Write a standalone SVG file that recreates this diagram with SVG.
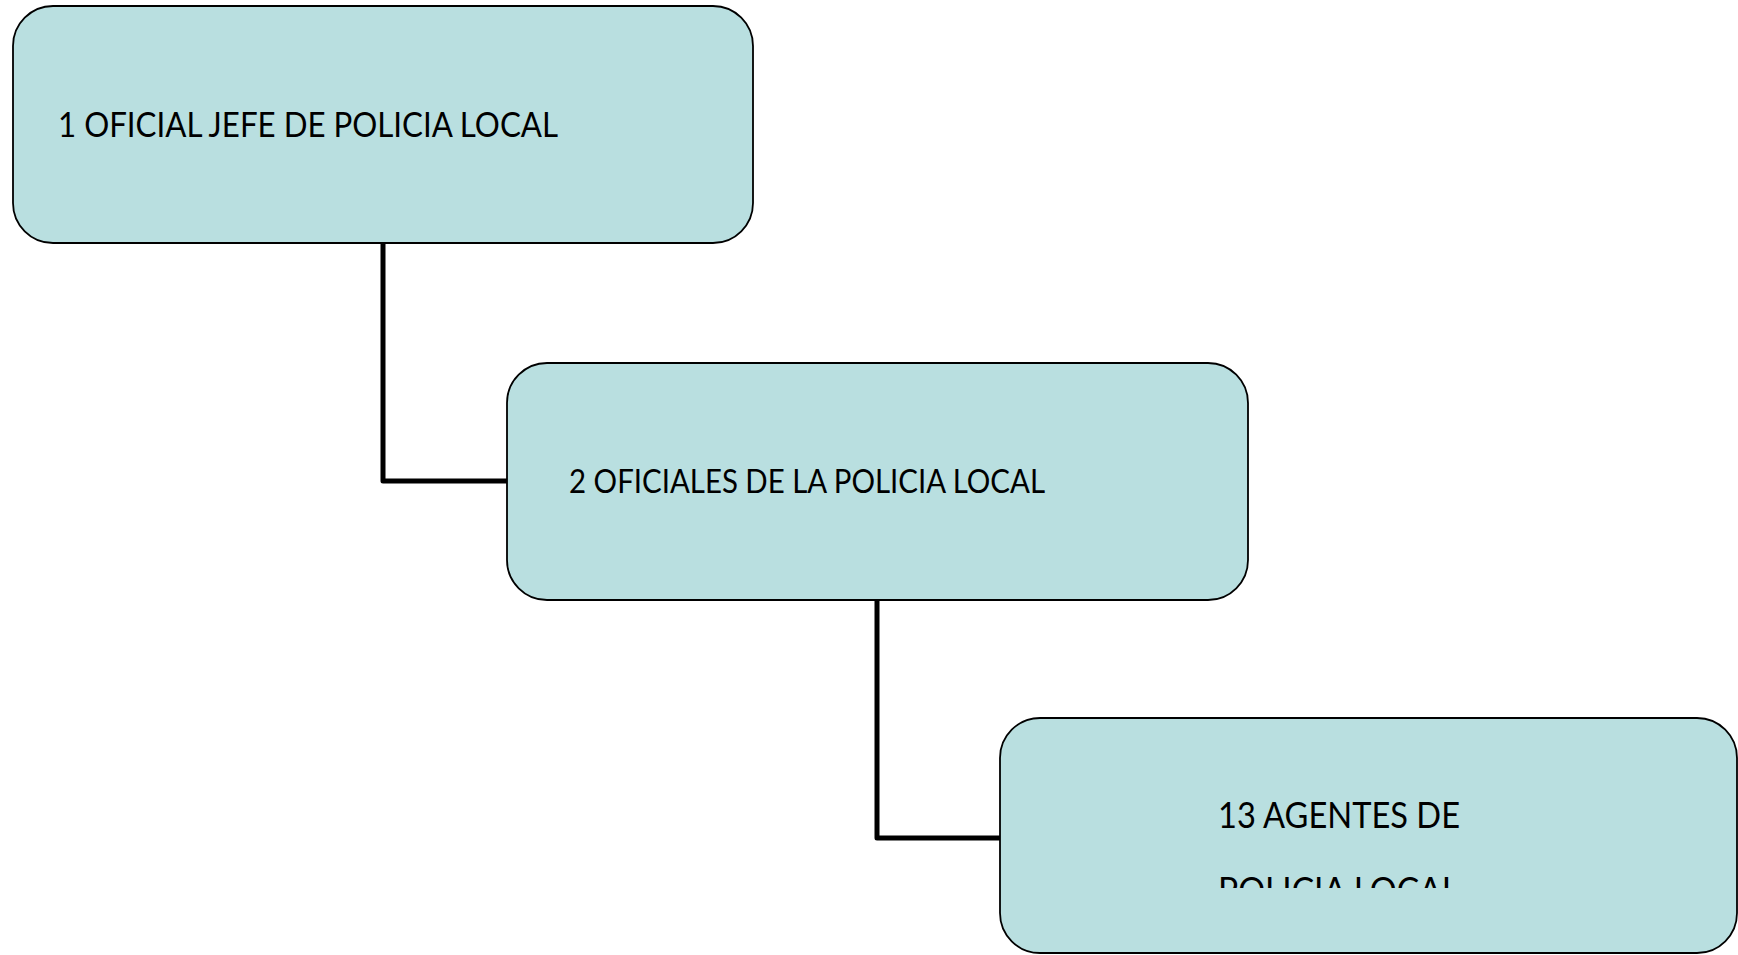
<svg xmlns="http://www.w3.org/2000/svg" width="1738" height="955" viewBox="0 0 1738 955">
<style>
.box{fill:#B9DFE0;stroke:#000;stroke-width:1.8}
.conn{fill:none;stroke:#000;stroke-width:5;stroke-linejoin:round}
.lbl{font-family:Lato,"Open Sans","Liberation Sans",sans-serif;fill:#000}
</style>
<defs>
<clipPath id="clip3"><rect x="1000" y="718" width="738" height="170"/></clipPath>
</defs>
<rect width="1738" height="955" fill="#fff"/>
<g id="connectors">
<path class="conn" d="M383 244 V481 H507"/>
<path class="conn" d="M877 600 V838 H1000"/>
</g>
<g id="node1">
<rect class="box" x="13" y="6" width="740" height="237" rx="40" ry="40"/>
<text class="lbl" x="58" y="137" font-size="34" textLength="500" lengthAdjust="spacingAndGlyphs">1 OFICIAL JEFE DE POLICIA LOCAL</text>
</g>
<g id="node2">
<rect class="box" x="507" y="363" width="741" height="237" rx="40" ry="40"/>
<text class="lbl" x="569" y="493" font-size="33" textLength="476" lengthAdjust="spacingAndGlyphs">2 OFICIALES DE LA POLICIA LOCAL</text>
</g>
<g id="node3">
<rect class="box" x="1000" y="718" width="737" height="235" rx="40" ry="40"/>
<g clip-path="url(#clip3)">
<text class="lbl" x="1218" y="828" font-size="36" textLength="242" lengthAdjust="spacingAndGlyphs">13 AGENTES DE</text>
<text class="lbl" x="1218" y="903" font-size="36" textLength="241" lengthAdjust="spacingAndGlyphs">POLICIA LOCAL</text>
</g>
</g>
</svg>
